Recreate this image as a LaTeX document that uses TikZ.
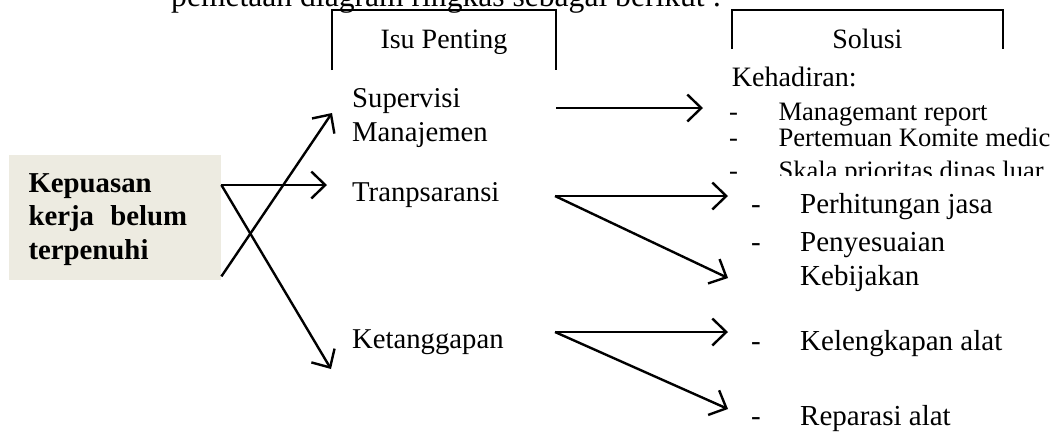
\documentclass[tikz,border=0pt]{standalone}
\usepackage{fontspec}
\setmainfont{Liberation Serif}
\usetikzlibrary{arrows.meta}
\definecolor{boxfill}{RGB}{237,235,225}
\begin{document}
\begin{tikzpicture}[x=1pt,y=-1pt,
  lbl/.style={anchor=base west, inner sep=0pt, font=\fontsize{28.7}{34}\selectfont},
  ttl/.style={anchor=base, inner sep=0pt, font=\fontsize{28}{34}\selectfont},
  sub/.style={anchor=base west, inner sep=0pt, font=\fontsize{26.6}{30}\selectfont},
  sol/.style={anchor=base west, inner sep=0pt, font=\fontsize{29}{34}\selectfont},
  kepl/.style={anchor=base west, inner sep=0pt, font=\fontsize{28.8}{34}\selectfont\bfseries},
  arr/.style={line width=2.4pt, -{Straight Barb[length=14pt,width=27pt,line width=2.4pt]}},
  frame/.style={line width=2pt}
]
\useasboundingbox (0,0) rectangle (1054,432);

% clipped heading text
\node[anchor=base west, inner sep=0pt, font=\fontsize{31.6}{36}\selectfont] (intro) at (171,6) {pemetaan diagram ringkas sebagai berikut :};

% column headers
\draw[frame] (331.7,70) |- (556,10) -- (556,70);
\node[ttl] (isu) at (443.9,48) {Isu Penting};
\draw[frame] (731.7,49) |- (1003,10) -- (1003,49);
\node[ttl] (solusi) at (867.4,48) {Solusi};

% left box
\node[fill=boxfill, minimum width=211.8pt, minimum height=125.2pt, anchor=north west, inner sep=0pt] (kep) at (9.2,154.5) {};
\node[kepl] (kep1) at (28.3,192) {Kepuasan};
\node[kepl] (kep2) at (28.3,225.5) {kerja\hspace{9pt} belum};
\node[kepl] (kep3) at (28.3,259) {terpenuhi};

% issues
\node[lbl] (sup1) at (352,107) {Supervisi};
\node[lbl] (sup2) at (352,141) {Manajemen};
\node[lbl] (tra) at (352,201.5) {Tranpsaransi};
\node[lbl] (ket) at (352,348.3) {Ketanggapan};

% solutions
\node[anchor=base west, inner sep=0pt, font=\fontsize{28.1}{34}\selectfont] (keh) at (731.7,86.7) {Kehadiran:};
\node[sub] (d1) at (729,120) {-};
\node[sub] (mr) at (778.3,120) {Managemant report};
\node[sub] (d2) at (729,146) {-};
\node[sub] (pk) at (778.3,146) {Pertemuan Komite medic};
\begin{scope}
\clip (700,150) rectangle (1054,175.5);
\node[sub] (d3) at (729,179) {-};
\node[sub] (sk) at (778.3,179) {Skala prioritas dinas luar};
\end{scope}
\node[sol] (d4) at (751,213.3) {-};
\node[sol] (ph) at (800,213.3) {Perhitungan jasa};
\node[sol] (d5) at (751,251.7) {-};
\node[sol] (pn) at (800,251.7) {Penyesuaian};
\node[sol] (kb) at (800,285) {Kebijakan};
\node[sol] (d6) at (751,350) {-};
\node[sol] (kl) at (800,350) {Kelengkapan alat};
\node[sol] (d7) at (751,425.6) {-};
\node[sol] (rp) at (800,425.6) {Reparasi alat};

% connector end points
\coordinate (kA) at ([yshift=-30.5pt]kep.north east);
\coordinate (kB) at ([yshift=3.7pt]kep.south east);
\coordinate (supIn) at (332,113);
\coordinate (traIn) at (327,185);
\coordinate (ketIn) at (331,369);
\coordinate (supOut) at (556,108);
\coordinate (supTip) at (703,108);
\coordinate (traOut) at (555,196);
\coordinate (traTipA) at (728,196);
\coordinate (traTipB) at (728,278);
\coordinate (ketOut) at (555,332);
\coordinate (ketTipA) at (728,332);
\coordinate (ketTipB) at (728,409);

\draw[arr] (kB) -- (supIn);
\draw[arr] (kA) -- (traIn);
\draw[arr] (kA) -- (ketIn);
\draw[arr] (supOut) -- (supTip);
\draw[arr] (traOut) -- (traTipA);
\draw[arr] (traOut) -- (traTipB);
\draw[arr] (ketOut) -- (ketTipA);
\draw[arr] (ketOut) -- (ketTipB);
\end{tikzpicture}
\end{document}
